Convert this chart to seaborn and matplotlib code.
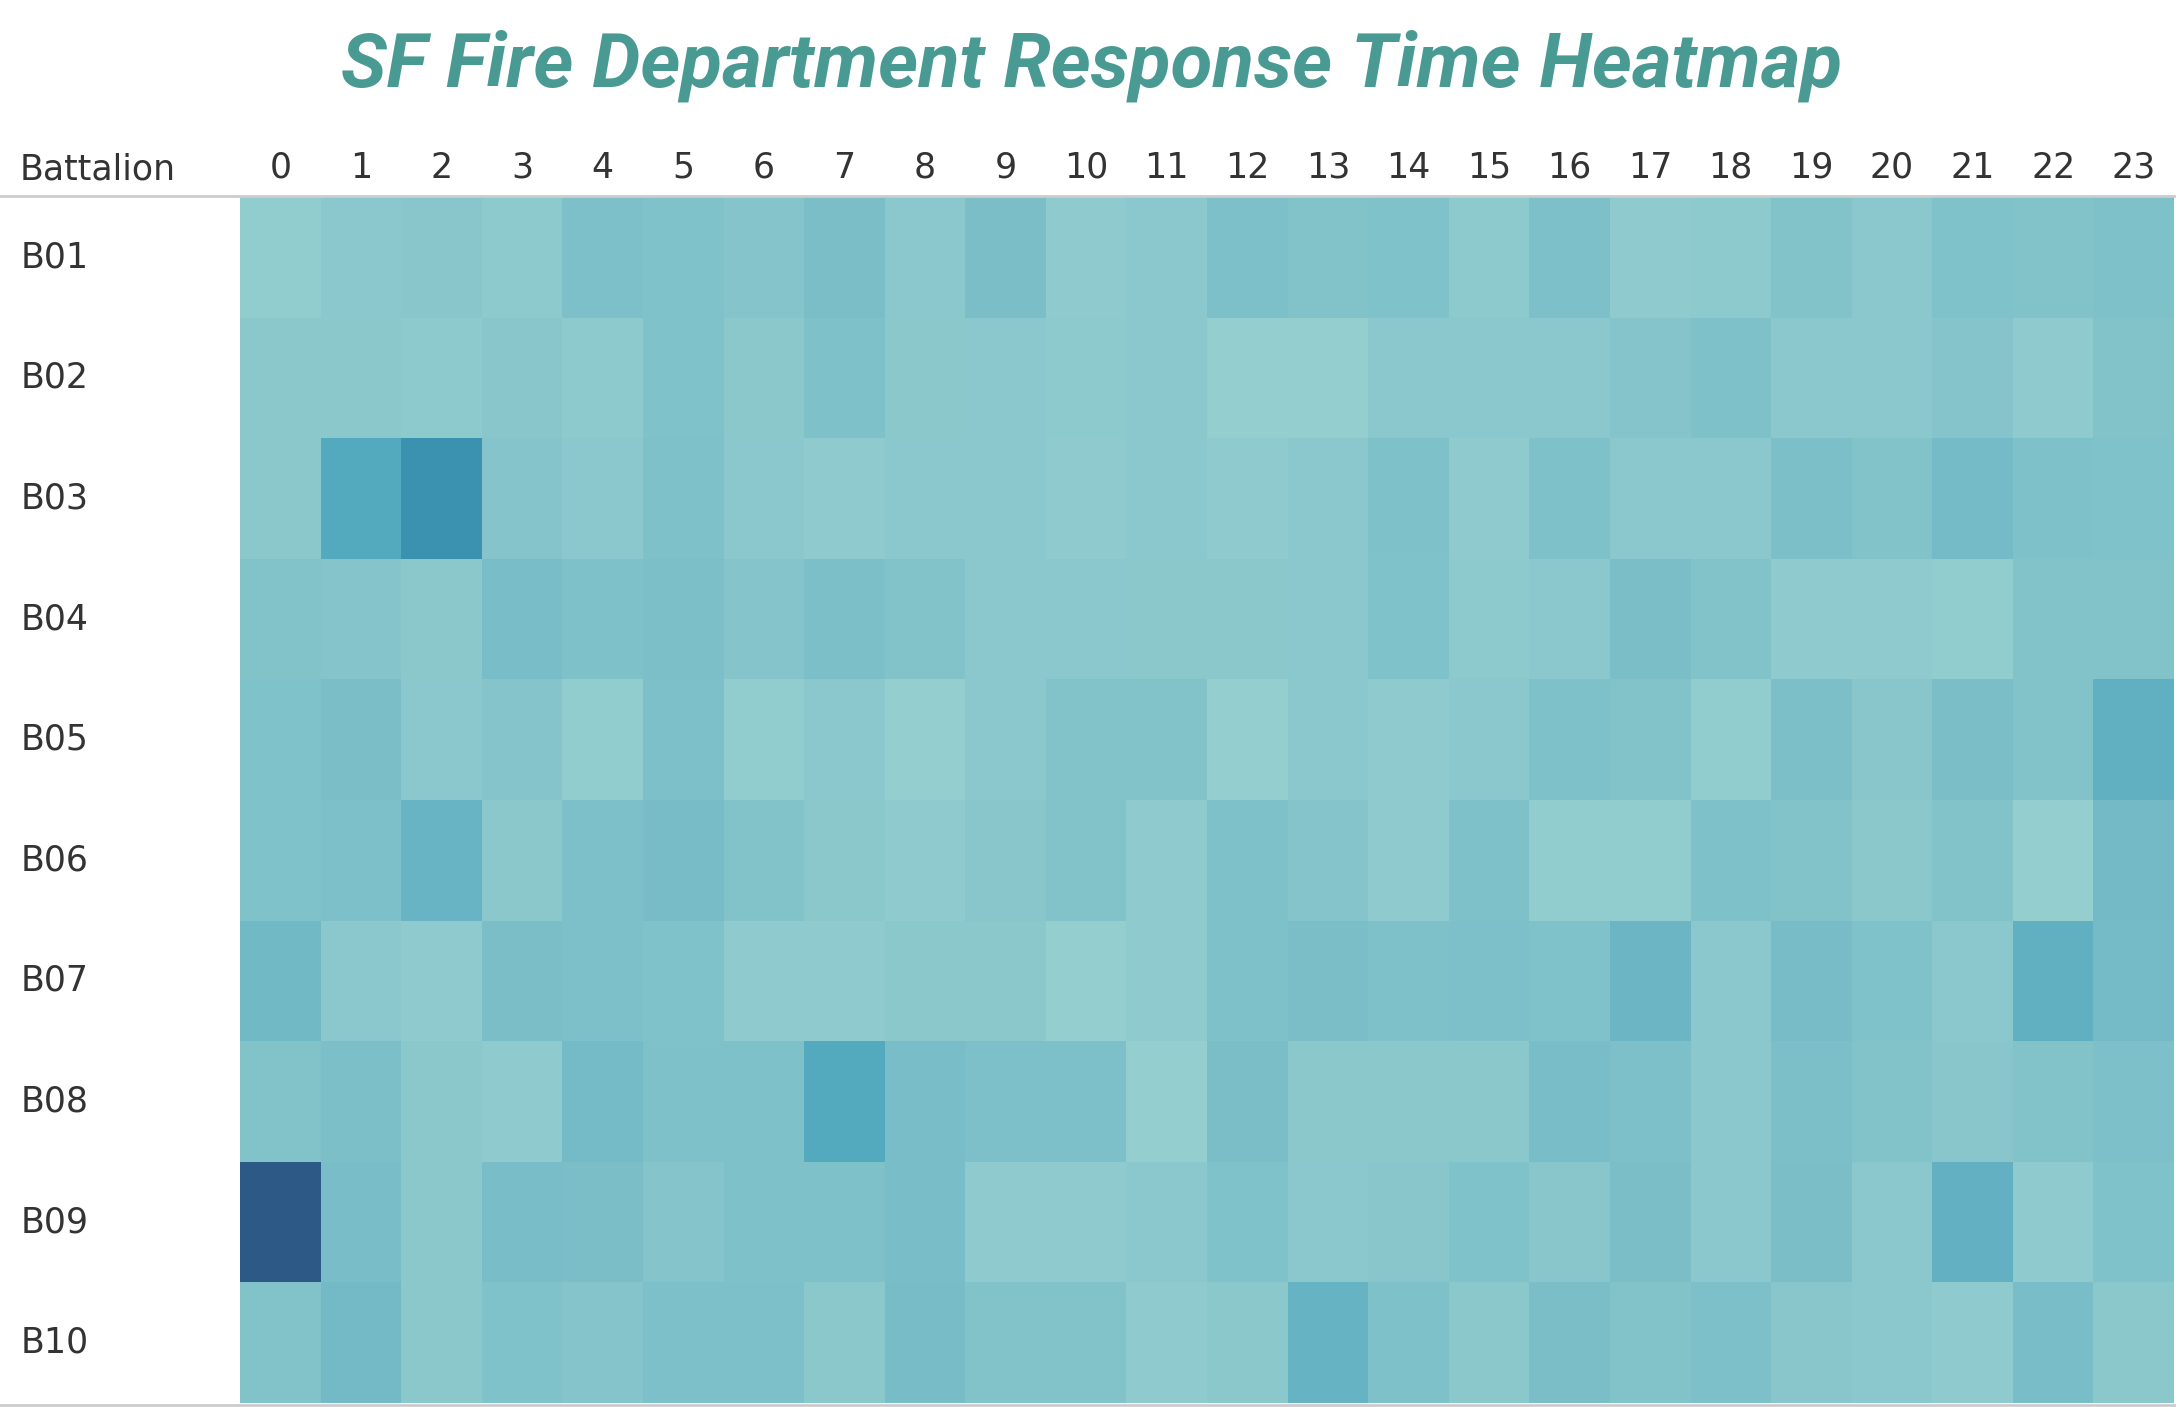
import numpy as np
import pandas as pd
import seaborn as sns
import matplotlib.pyplot as plt
from matplotlib.colors import LinearSegmentedColormap
from matplotlib.lines import Line2D

# horas do dia e batalhoes
horas = list(range(24))
batalhoes = ["B01", "B02", "B03", "B04", "B05", "B06", "B07", "B08", "B09", "B10"]

# tempo medio de resposta (min)
b01 = [3.7, 4.0, 4.2, 3.9, 4.8, 4.6, 4.4, 5.0, 4.0, 5.0, 3.8, 4.0, 4.8, 4.5, 4.6, 3.9, 4.8, 3.8, 3.9, 4.5, 4.0, 4.6, 4.5, 4.7]
b02 = [4.1, 4.1, 3.9, 4.2, 3.9, 4.6, 4.1, 4.7, 4.1, 4.0, 3.9, 4.0, 3.5, 3.5, 4.0, 4.0, 4.0, 4.4, 4.7, 4.0, 4.0, 4.4, 3.8, 4.5]
b03 = [4.1, 7.5, 9.5, 4.4, 4.0, 4.7, 4.0, 3.8, 4.0, 4.0, 3.8, 4.0, 3.8, 4.0, 4.7, 3.8, 4.7, 4.0, 4.0, 4.9, 4.5, 5.4, 4.7, 4.6]
b04 = [4.5, 4.4, 4.1, 5.1, 4.7, 4.9, 4.4, 4.9, 4.5, 4.0, 4.0, 4.1, 4.1, 4.0, 4.6, 3.9, 4.0, 5.0, 4.5, 3.8, 3.8, 3.7, 4.5, 4.5]
b05 = [4.6, 5.0, 4.0, 4.4, 3.7, 4.8, 3.7, 4.0, 3.5, 4.0, 4.5, 4.5, 3.5, 4.0, 3.8, 4.0, 4.7, 4.5, 3.7, 4.9, 4.2, 5.0, 4.5, 6.5]
b06 = [4.6, 4.8, 6.1, 4.1, 4.8, 5.3, 4.5, 4.1, 3.8, 4.2, 4.5, 3.8, 4.7, 4.4, 3.8, 4.7, 3.7, 3.7, 4.7, 4.5, 4.1, 4.5, 3.5, 5.5]
b07 = [5.6, 4.0, 3.8, 5.0, 4.8, 4.6, 3.8, 3.8, 4.1, 4.1, 3.5, 3.8, 4.7, 5.0, 4.7, 4.8, 4.6, 6.0, 4.0, 5.2, 4.6, 4.0, 6.5, 5.4]
b08 = [4.5, 4.9, 4.1, 3.8, 5.4, 4.7, 4.7, 7.5, 5.1, 4.8, 4.8, 3.5, 5.0, 4.1, 4.1, 4.1, 5.1, 4.8, 4.0, 4.9, 4.5, 4.2, 4.5, 4.8]
b09 = [14.0, 5.1, 4.1, 5.1, 5.0, 4.4, 4.7, 4.7, 5.1, 3.8, 3.8, 4.0, 4.6, 4.0, 4.2, 4.6, 4.2, 5.0, 4.0, 5.0, 4.0, 6.4, 3.8, 4.6]
b10 = [4.5, 5.5, 4.1, 4.6, 4.4, 4.8, 4.8, 4.1, 5.2, 4.5, 4.5, 3.8, 4.1, 6.2, 4.7, 4.1, 5.0, 4.5, 4.8, 4.2, 4.0, 3.8, 5.1, 4.1]

tabela = pd.DataFrame([b01, b02, b03, b04, b05, b06, b07, b08, b09, b10], index=batalhoes, columns=horas)

# paleta parecida com a "Blue-Teal" do tableau
cores = LinearSegmentedColormap.from_list("blueteal", [
    (0.0, "#bce4d8"), (0.257, "#93cdcf"), (0.32, "#82c3ca"), (0.4, "#72b9c6"),
    (0.46, "#62b0c2"), (0.536, "#53a9be"), (0.68, "#3a91b0"), (1.0, "#2c5985")])

W, H = 2181, 1407
fig = plt.figure(figsize=(W / 100, H / 100), dpi=100)
ax = fig.add_axes([240 / W, 1 - 1403 / H, 1934 / W, 1206 / H])

sns.heatmap(tabela, cmap=cores, vmin=0, vmax=14, cbar=False, linewidths=0, ax=ax)

ax.xaxis.tick_top()
ax.tick_params(axis="both", length=0, labelsize=25, labelcolor="#333333")
ax.tick_params(axis="x", pad=9)
ax.tick_params(axis="y", pad=158)
for t in ax.get_yticklabels():
    t.set_ha("left")
    t.set_rotation(0)
for t in ax.get_xticklabels():
    t.set_rotation(0)
ax.set_xlabel("")
ax.set_ylabel("")

fig.text(19.5 / W, 1 - 169 / H, "Battalion", fontsize=25, color="#333333", ha="left", va="center")

# linhas cinzas do cabecalho e do rodape
fig.add_artist(Line2D([0, 2174 / W], [1 - 196 / H, 1 - 196 / H], transform=fig.transFigure, color="#cccccc", lw=2))
fig.add_artist(Line2D([0, 2174 / W], [1 - 1404.5 / H, 1 - 1404.5 / H], transform=fig.transFigure, color="#cccccc", lw=2))

fig.text(1092 / W, 1 - 66 / H, "SF Fire Department Response Time Heatmap",
         family=["Roboto", "DejaVu Sans"], fontsize=55, fontstyle="italic",
         fontweight="bold", color="#4a9a94", ha="center", va="center")

fig.savefig("out.png", dpi=100)
